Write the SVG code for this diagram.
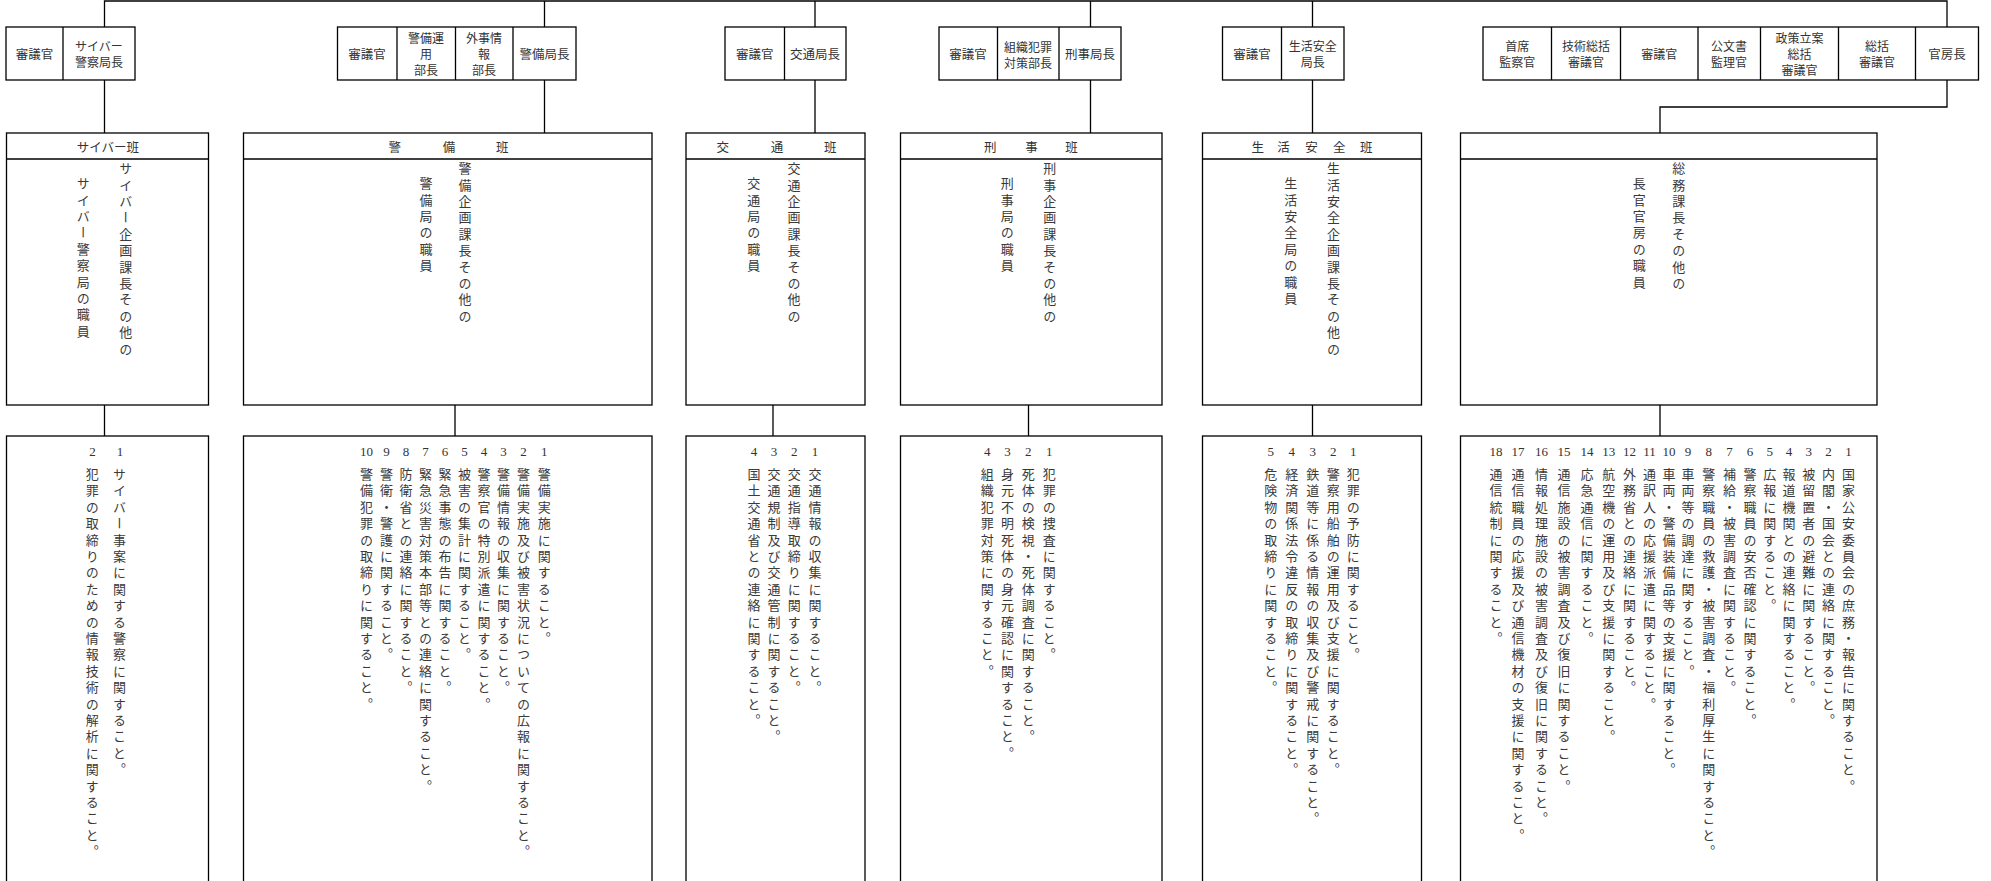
<svg xmlns="http://www.w3.org/2000/svg" width="1991" height="881" viewBox="0 0 1991 881">
<style>
.b{fill:none;stroke:#000;stroke-width:1.3}
.c{fill:none;stroke:#000;stroke-width:1.3}
.t{font-family:"Noto Sans CJK JP","Noto Sans CJK SC",sans-serif;font-size:12.5px;fill:#333;text-anchor:middle;dominant-baseline:central}
.m{font-size:12px}
.v{font-family:"Noto Sans CJK JP","Noto Sans CJK SC",sans-serif;font-size:13px;fill:#3a3a3a;writing-mode:vertical-rl;letter-spacing:3.4px}
.n{font-family:"Liberation Serif",serif;font-size:13px;fill:#333;text-anchor:middle;dominant-baseline:central}
</style>
<rect width="1991" height="881" fill="#fff"/>
<g id="connectors">
<path class="c" d="M104.5,27V1H1947V27M544.5,1V27M815,1V27M1090.5,1V27M1312.5,1V27"/>
<path class="c" d="M104.5,80V133M544.5,80V133M815,80V133M1090.5,80V133M1312.5,80V133M1947,80V107H1660V133"/>
<path class="c" d="M104.5,405V436M455,405V436M773,405V436M1028.5,405V436M1312.5,405V436M1660,405V436"/>
</g>
<g id="hdr-cyber">
<rect class="b" x="6" y="27" width="129" height="53"/><path class="b" d="M63,27V80"/>
<text class="t" x="34.5" y="53.5">審議官</text>
<text class="t m" x="99" y="45.5">サイバー</text><text class="t m" x="99" y="61.5">警察局長</text>
</g>
<g id="hdr-security">
<rect class="b" x="337.5" y="27" width="238.5" height="53"/><path class="b" d="M397,27V80M455.5,27V80M513,27V80"/>
<text class="t" x="367" y="53.5">審議官</text>
<text class="t m" x="426" y="37.5">警備運</text><text class="t m" x="426" y="53.5">用</text><text class="t m" x="426" y="69.5">部長</text>
<text class="t m" x="484" y="37.5">外事情</text><text class="t m" x="484" y="53.5">報</text><text class="t m" x="484" y="69.5">部長</text>
<text class="t" x="544.5" y="53.5">警備局長</text>
</g>
<g id="hdr-traffic">
<rect class="b" x="725" y="27" width="121" height="53"/><path class="b" d="M784.5,27V80"/>
<text class="t" x="754.7" y="53.5">審議官</text>
<text class="t" x="815" y="53.5">交通局長</text>
</g>
<g id="hdr-keiji">
<rect class="b" x="939" y="27" width="182" height="53"/><path class="b" d="M997.5,27V80M1059,27V80"/>
<text class="t" x="968" y="53.5">審議官</text>
<text class="t m" x="1028" y="46">組織犯罪</text><text class="t m" x="1028" y="62">対策部長</text>
<text class="t" x="1090" y="53.5">刑事局長</text>
</g>
<g id="hdr-seikatsu">
<rect class="b" x="1222.5" y="27" width="121.5" height="53"/><path class="b" d="M1281.5,27V80"/>
<text class="t" x="1252" y="53.5">審議官</text>
<text class="t m" x="1312.7" y="45.5">生活安全</text><text class="t m" x="1312.7" y="61.5">局長</text>
</g>
<g id="hdr-kanbo">
<rect class="b" x="1483" y="27" width="495.5" height="53"/><path class="b" d="M1551.5,27V80M1620.5,27V80M1698,27V80M1760.5,27V80M1838.5,27V80M1915.5,27V80"/>
<text class="t m" x="1517.3" y="45.5">首席</text><text class="t m" x="1517.3" y="61.5">監察官</text>
<text class="t m" x="1586" y="45.5">技術総括</text><text class="t m" x="1586" y="61.5">審議官</text>
<text class="t m" x="1659.2" y="53.5">審議官</text>
<text class="t m" x="1729" y="45.5">公文書</text><text class="t m" x="1729" y="61.5">監理官</text>
<text class="t m" x="1799.5" y="37.5">政策立案</text><text class="t m" x="1799.5" y="53.5">総括</text><text class="t m" x="1799.5" y="69.5">審議官</text>
<text class="t m" x="1877" y="45.5">総括</text><text class="t m" x="1877" y="61.5">審議官</text>
<text class="t" x="1947" y="53.5">官房長</text>
</g>
<g id="han-cyber">
<rect class="b" x="6.5" y="133" width="202" height="272"/><path class="b" d="M6.5,159H208.5"/>
<text class="t" x="108" y="146">サイバー班</text>
<text class="v" x="125.8" y="161.8">サイバー企画課長その他の</text>
<text class="v" x="83.3" y="176.8">サイバー警察局の職員</text>
</g>
<g id="han-security">
<rect class="b" x="243.5" y="133" width="408.5" height="272"/><path class="b" d="M243.5,159H652"/>
<text class="t" x="394.7" y="146">警</text><text class="t" x="448.9" y="146">備</text><text class="t" x="502.2" y="146">班</text>
<text class="v" x="465" y="161.8">警備企画課長その他の</text>
<text class="v" x="425.9" y="176.8">警備局の職員</text>
</g>
<g id="han-traffic">
<rect class="b" x="686" y="133" width="179" height="272"/><path class="b" d="M686,159H865"/>
<text class="t" x="722.7" y="146">交</text><text class="t" x="777" y="146">通</text><text class="t" x="830.3" y="146">班</text>
<text class="v" x="793.9" y="161.8">交通企画課長その他の</text>
<text class="v" x="753.7" y="176.8">交通局の職員</text>
</g>
<g id="han-keiji">
<rect class="b" x="900.5" y="133" width="261.5" height="272"/><path class="b" d="M900.5,159H1162"/>
<text class="t" x="990.2" y="146">刑</text><text class="t" x="1031.4" y="146">事</text><text class="t" x="1071.6" y="146">班</text>
<text class="v" x="1049.8" y="161.8">刑事企画課長その他の</text>
<text class="v" x="1007.2" y="176.8">刑事局の職員</text>
</g>
<g id="han-seikatsu">
<rect class="b" x="1202.5" y="133" width="219" height="272"/><path class="b" d="M1202.5,159H1421.5"/>
<text class="t" x="1257.8" y="146">生</text><text class="t" x="1283.4" y="146">活</text><text class="t" x="1311.6" y="146">安</text><text class="t" x="1339.2" y="146">全</text><text class="t" x="1366.3" y="146">班</text>
<text class="v" x="1333.4" y="161.8">生活安全企画課長その他の</text>
<text class="v" x="1290.7" y="176.8">生活安全局の職員</text>
</g>
<g id="han-kanbo">
<rect class="b" x="1460.5" y="133" width="416.5" height="272"/><path class="b" d="M1460.5,159H1877"/>
<text class="v" x="1678.7" y="161.8">総務課長その他の</text>
<text class="v" x="1639.3" y="176.8">長官官房の職員</text>
</g>
<g id="duty-cyber">
<rect class="b" x="6.5" y="436" width="202" height="460"/>
<text class="n" x="120" y="451">1</text><text class="v" x="119.5" y="467.5">サイバー事案に関する警察に関すること。</text>
<text class="n" x="92.5" y="451">2</text><text class="v" x="92.2" y="467.5">犯罪の取締りのための情報技術の解析に関すること。</text>
</g>
<g id="duty-security">
<rect class="b" x="243.5" y="436" width="408.5" height="460"/>
<text class="n" x="544.3" y="451">1</text><text class="v" x="544.3" y="467.5">警備実施に関すること。</text>
<text class="n" x="523.5" y="451">2</text><text class="v" x="523.5" y="467.5">警備実施及び被害状況についての広報に関すること。</text>
<text class="n" x="503.5" y="451">3</text><text class="v" x="503.5" y="467.5">警備情報の収集に関すること。</text>
<text class="n" x="484" y="451">4</text><text class="v" x="484" y="467.5">警察官の特別派遣に関すること。</text>
<text class="n" x="464.5" y="451">5</text><text class="v" x="464.5" y="467.5">被害の集計に関すること。</text>
<text class="n" x="445" y="451">6</text><text class="v" x="445" y="467.5">緊急事態の布告に関すること。</text>
<text class="n" x="425.5" y="451">7</text><text class="v" x="425.5" y="467.5">緊急災害対策本部等との連絡に関すること。</text>
<text class="n" x="406" y="451">8</text><text class="v" x="406" y="467.5">防衛省との連絡に関すること。</text>
<text class="n" x="386.5" y="451">9</text><text class="v" x="386.5" y="467.5">警衛・警護に関すること。</text>
<text class="n" x="366.5" y="451">10</text><text class="v" x="366.5" y="467.5">警備犯罪の取締りに関すること。</text>
</g>
<g id="duty-traffic">
<rect class="b" x="686" y="436" width="179" height="460"/>
<text class="n" x="815" y="451">1</text><text class="v" x="815" y="467.5">交通情報の収集に関すること。</text>
<text class="n" x="794.3" y="451">2</text><text class="v" x="794.3" y="467.5">交通指導取締りに関すること。</text>
<text class="n" x="774" y="451">3</text><text class="v" x="774" y="467.5">交通規制及び交通管制に関すること。</text>
<text class="n" x="754" y="451">4</text><text class="v" x="754" y="467.5">国土交通省との連絡に関すること。</text>
</g>
<g id="duty-keiji">
<rect class="b" x="900.5" y="436" width="261.5" height="460"/>
<text class="n" x="1049.3" y="451">1</text><text class="v" x="1049.3" y="467.5">犯罪の捜査に関すること。</text>
<text class="n" x="1028.3" y="451">2</text><text class="v" x="1028.3" y="467.5">死体の検視・死体調査に関すること。</text>
<text class="n" x="1007.5" y="451">3</text><text class="v" x="1007.5" y="467.5">身元不明死体の身元確認に関すること。</text>
<text class="n" x="987.3" y="451">4</text><text class="v" x="987.3" y="467.5">組織犯罪対策に関すること。</text>
</g>
<g id="duty-seikatsu">
<rect class="b" x="1202.5" y="436" width="219" height="460"/>
<text class="n" x="1353.3" y="451">1</text><text class="v" x="1353.3" y="467.5">犯罪の予防に関すること。</text>
<text class="n" x="1333.3" y="451">2</text><text class="v" x="1333.3" y="467.5">警察用船舶の運用及び支援に関すること。</text>
<text class="n" x="1312.7" y="451">3</text><text class="v" x="1312.7" y="467.5">鉄道等に係る情報の収集及び警戒に関すること。</text>
<text class="n" x="1291.7" y="451">4</text><text class="v" x="1291.7" y="467.5">経済関係法令違反の取締りに関すること。</text>
<text class="n" x="1270.7" y="451">5</text><text class="v" x="1270.7" y="467.5">危険物の取締りに関すること。</text>
</g>
<g id="duty-kanbo">
<rect class="b" x="1460.5" y="436" width="416.5" height="460"/>
<text class="n" x="1848.5" y="451">1</text><text class="v" x="1848.5" y="467.5">国家公安委員会の庶務・報告に関すること。</text>
<text class="n" x="1828.5" y="451">2</text><text class="v" x="1828.5" y="467.5">内閣・国会との連絡に関すること。</text>
<text class="n" x="1808.8" y="451">3</text><text class="v" x="1808.8" y="467.5">被留置者の避難に関すること。</text>
<text class="n" x="1789" y="451">4</text><text class="v" x="1789" y="467.5">報道機関との連絡に関すること。</text>
<text class="n" x="1769.8" y="451">5</text><text class="v" x="1769.8" y="467.5">広報に関すること。</text>
<text class="n" x="1750" y="451">6</text><text class="v" x="1750" y="467.5">警察職員の安否確認に関すること。</text>
<text class="n" x="1729.5" y="451">7</text><text class="v" x="1729.5" y="467.5">補給・被害調査に関すること。</text>
<text class="n" x="1708.8" y="451">8</text><text class="v" x="1708.8" y="467.5">警察職員の救護・被害調査・福利厚生に関すること。</text>
<text class="n" x="1688" y="451">9</text><text class="v" x="1688" y="467.5">車両等の調達に関すること。</text>
<text class="n" x="1669" y="451">10</text><text class="v" x="1669" y="467.5">車両・警備装備品等の支援に関すること。</text>
<text class="n" x="1649.4" y="451">11</text><text class="v" x="1649.4" y="467.5">通訳人の応援派遣に関すること。</text>
<text class="n" x="1629.4" y="451">12</text><text class="v" x="1629.4" y="467.5">外務省との連絡に関すること。</text>
<text class="n" x="1608.7" y="451">13</text><text class="v" x="1608.7" y="467.5">航空機の運用及び支援に関すること。</text>
<text class="n" x="1587" y="451">14</text><text class="v" x="1587" y="467.5">応急通信に関すること。</text>
<text class="n" x="1564" y="451">15</text><text class="v" x="1564" y="467.5">通信施設の被害調査及び復旧に関すること。</text>
<text class="n" x="1541.4" y="451">16</text><text class="v" x="1541.4" y="467.5">情報処理施設の被害調査及び復旧に関すること。</text>
<text class="n" x="1518" y="451">17</text><text class="v" x="1518" y="467.5">通信職員の応援及び通信機材の支援に関すること。</text>
<text class="n" x="1496" y="451">18</text><text class="v" x="1496" y="467.5">通信統制に関すること。</text>
</g>
</svg>
